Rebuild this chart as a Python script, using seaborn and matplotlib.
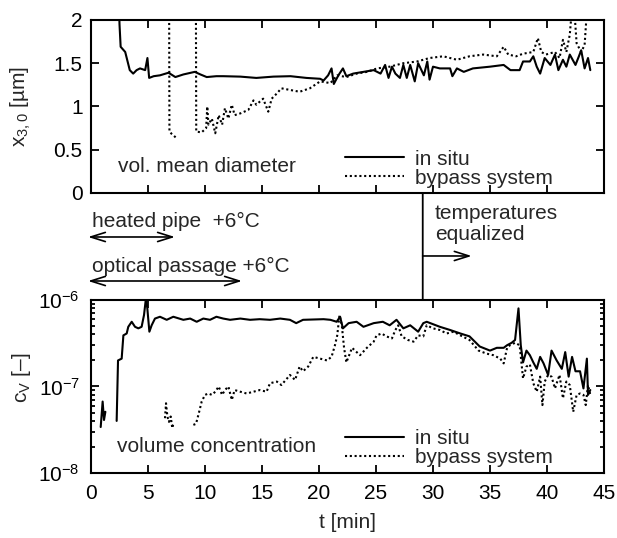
import numpy as np
import pandas as pd
import matplotlib
matplotlib.use("Agg")
import matplotlib.pyplot as plt
from matplotlib.patches import ConnectionPatch
from matplotlib.ticker import NullFormatter, LogLocator
import seaborn as sns

# ---- data ----
# upper panel: volume mean diameter x_3,0 [um]
t_d_insitu = [2.45, 2.5, 2.6, 3.0, 3.4, 3.7, 4.0, 4.3, 4.75, 4.95, 5.1, 5.5, 6.05, 6.8, 7.4, 8.1,
              9.1, 9.6, 10.15, 11.0, 11.6, 13.1, 14.5, 16.0, 17.5, 18.9, 20.1, 20.4, 20.8, 21.1,
              21.3, 21.7, 22.1, 22.4, 23.0, 23.9, 24.8, 25.4, 25.8, 26.1, 26.4, 26.7, 27.1, 27.4,
              27.7, 28.0, 28.4, 28.7, 29.2, 29.5, 29.7, 30.0, 30.6, 31.5, 31.7, 32.1, 32.7, 33.5,
              35.0, 36.2, 36.8, 37.6, 37.9, 38.5, 38.8, 39.1, 39.4, 39.8, 40.3, 40.7, 41.0, 41.4,
              41.7, 42.0, 42.5, 42.8, 43.0, 43.3, 43.6, 43.8]
d_insitu = [2.2, 1.95, 1.69, 1.63, 1.42, 1.38, 1.42, 1.44, 1.42, 1.56, 1.33, 1.35, 1.36, 1.39, 1.34, 1.37,
            1.40, 1.37, 1.34, 1.35, 1.35, 1.345, 1.33, 1.345, 1.35, 1.33, 1.32, 1.30, 1.36, 1.44,
            1.26, 1.36, 1.44, 1.35, 1.38, 1.40, 1.42, 1.38, 1.48, 1.33, 1.46, 1.38, 1.33, 1.48,
            1.33, 1.48, 1.29, 1.50, 1.36, 1.52, 1.31, 1.46, 1.44, 1.44, 1.35, 1.44, 1.40, 1.44,
            1.46, 1.48, 1.42, 1.42, 1.52, 1.52, 1.58, 1.46, 1.38, 1.56, 1.48, 1.60, 1.42, 1.54,
            1.46, 1.60, 1.48, 1.58, 1.65, 1.44, 1.56, 1.42]

t_d_bypass_1 = [6.85, 6.88, 7.1, 7.45]
d_bypass_1 = [2.3, 0.71, 0.68, 0.64]
t_d_bypass_2 = [9.2, 9.23, 9.7, 10.1, 10.2, 10.3, 10.6, 10.9, 11.2, 11.5, 11.75, 12.05, 12.35, 12.6,
                13.1, 13.8, 14.25, 14.5, 15.1, 15.55, 15.85, 16.3, 16.7, 17.5, 18.3, 19.2, 20.1,
                21.0, 21.6, 22.4, 23.3, 24.2, 25.1, 26.2, 27.4, 28.6, 29.7, 30.9, 32.1, 33.2, 34.4,
                35.6, 36.2, 36.6, 37.3, 37.9, 38.8, 39.2, 39.5, 39.9, 40.7, 41.1, 41.4, 41.7, 42.0,
                42.3, 42.6, 43.0, 43.3, 43.6]
d_bypass_2 = [2.3, 0.71, 0.70, 0.75, 1.0, 0.79, 0.86, 0.69, 0.90, 0.79, 0.98, 0.86, 1.02, 0.90,
              0.92, 0.96, 1.07, 1.02, 1.09, 0.94, 1.09, 1.15, 1.21, 1.19, 1.17, 1.21, 1.29,
              1.27, 1.36, 1.34, 1.38, 1.40, 1.44, 1.46, 1.50, 1.52, 1.56, 1.58, 1.54, 1.58, 1.60,
              1.58, 1.69, 1.60, 1.58, 1.61, 1.63, 1.79, 1.63, 1.60, 1.63, 1.56, 1.77, 1.63, 1.83,
              2.3, 1.73, 1.63, 1.71, 2.3]

# lower panel: volume concentration c_V [-]
t_c_insitu_1 = [0.85, 1.02, 1.14, 1.26]
c_insitu_1 = [3.4e-8, 6.7e-8, 4.1e-8, 5.1e-8]
t_c_insitu_2 = [2.25, 2.37, 2.69, 2.84, 3.13, 3.27, 3.57, 3.86, 4.15, 4.44, 4.65, 4.82, 4.94, 5.12,
                5.32, 5.61, 6.05, 6.64, 7.22, 8.1, 8.7, 9.27, 9.85, 10.44, 11.0, 11.6, 12.2, 13.1,
                13.95, 14.8, 15.7, 16.6, 17.45, 18.0, 18.6, 20.4, 21.0, 21.55, 21.85, 22.1, 22.6,
                23.3, 23.9, 24.8, 25.6, 26.2, 26.8, 27.4, 28.0, 28.7, 29.15, 29.45, 30.6, 31.5,
                32.4, 33.2, 34.1, 35.0, 35.6, 36.2, 36.5, 36.9, 37.2, 37.5, 37.7, 37.9, 38.2, 38.5,
                38.8, 39.1, 39.4, 39.7, 40.1, 40.4, 40.85, 41.3, 41.6, 41.9, 42.2, 42.5, 42.9,
                43.2, 43.5, 43.6, 43.8]
c_insitu_2 = [4.0e-8, 2.0e-7, 2.1e-7, 3.9e-7, 4.1e-7, 4.9e-7, 5.6e-7, 4.9e-7, 4.7e-7, 4.9e-7,
              6.7e-7, 1.05e-6, 8.0e-7, 4.3e-7, 5.1e-7, 6.1e-7, 6.4e-7, 5.9e-7, 6.4e-7, 5.9e-7,
              6.1e-7, 5.6e-7, 6.1e-7, 5.9e-7, 6.4e-7, 6.1e-7, 5.9e-7, 6.1e-7, 5.9e-7, 6.0e-7,
              5.9e-7, 6.1e-7, 5.9e-7, 5.4e-7, 5.9e-7, 6.0e-7, 5.9e-7, 5.6e-7, 6.4e-7, 4.7e-7,
              5.4e-7, 5.6e-7, 4.9e-7, 5.4e-7, 5.6e-7, 5.1e-7, 5.9e-7, 4.7e-7, 5.1e-7, 4.3e-7,
              5.4e-7, 5.6e-7, 4.9e-7, 4.5e-7, 4.1e-7, 3.8e-7, 2.9e-7, 2.6e-7, 2.8e-7, 2.8e-7,
              3.0e-7, 3.2e-7, 3.45e-7, 8.0e-7, 3.0e-7, 1.9e-7, 2.6e-7, 2.3e-7, 1.9e-7, 1.6e-7,
              2.2e-7, 1.85e-7, 1.36e-7, 2.6e-7, 2.0e-7, 1.6e-7, 2.5e-7, 1.3e-7, 2.2e-7, 1.5e-7,
              1.5e-7, 9.5e-8, 2.1e-7, 8.0e-8, 9.1e-8]

t_c_bypass_1 = [6.49, 6.58, 6.70, 6.84, 6.99, 7.13, 7.22]
c_bypass_1 = [4.3e-8, 6.4e-8, 4.5e-8, 3.9e-8, 4.5e-8, 3.3e-8, 3.7e-8]
t_c_bypass_2 = [8.98, 9.21, 9.42, 9.71, 10.0, 10.3, 10.6, 10.9, 11.2, 11.5, 11.75, 12.05, 12.35,
                12.6, 13.1, 13.65, 14.25, 14.8, 15.4, 15.7, 16.3, 16.7, 17.2, 17.45, 17.9, 18.3,
                18.6, 19.05, 19.5, 20.1, 20.7, 21.1, 21.4, 21.6, 21.8, 22.0, 22.2, 22.4, 22.9,
                23.3, 23.6, 24.2, 24.8, 25.05, 25.5, 25.9, 26.4, 26.7, 26.95, 27.25, 27.8, 28.3,
                28.7, 29.15, 29.45, 30.0, 30.6, 31.2, 31.8, 32.4, 33.2, 34.0, 34.7, 35.3, 35.9,
                36.2, 36.5, 36.75, 37.2, 37.6, 37.9, 38.2, 38.5, 38.8, 39.1, 39.4, 39.6, 39.8,
                40.1, 40.4, 40.7, 41.1, 41.4, 41.7, 42.0, 42.3, 42.6, 42.9, 43.2, 43.4, 43.6, 43.8]
c_bypass_2 = [3.6e-8, 3.7e-8, 4.7e-8, 6.7e-8, 8.0e-8, 8.3e-8, 8.0e-8, 8.7e-8, 1.0e-7, 8.0e-8,
              9.1e-8, 1.0e-7, 7.0e-8, 9.1e-8, 8.7e-8, 8.3e-8, 8.7e-8, 9.1e-8, 8.7e-8, 1.09e-7,
              1.14e-7, 1.04e-7, 1.24e-7, 1.36e-7, 1.19e-7, 1.7e-7, 1.5e-7, 1.7e-7, 2.2e-7, 2.1e-7,
              2.0e-7, 2.2e-7, 3.0e-7, 3.9e-7, 6.7e-7, 5.1e-7, 2.8e-7, 1.9e-7, 2.8e-7, 2.5e-7,
              2.3e-7, 2.8e-7, 3.3e-7, 3.9e-7, 4.1e-7, 3.8e-7, 3.6e-7, 4.5e-7, 5.1e-7, 3.8e-7,
              3.45e-7, 3.3e-7, 3.9e-7, 3.8e-7, 5.1e-7, 4.7e-7, 4.5e-7, 4.1e-7, 4.3e-7, 3.9e-7,
              3.45e-7, 2.6e-7, 2.4e-7, 2.3e-7, 2.1e-7, 1.85e-7, 2.8e-7, 3.0e-7, 3.2e-7, 3.0e-7,
              1.24e-7, 1.7e-7, 1.8e-7, 1.09e-7, 8.7e-8, 1.3e-7, 6.1e-8, 1.14e-7, 1.36e-7, 1.3e-7,
              9.5e-8, 1.36e-7, 7.3e-8, 1.14e-7, 1.04e-7, 5.1e-8, 8.0e-8, 8.3e-8, 8.0e-8, 6.1e-8,
              1.04e-7, 8.0e-8]

series_names = ["in situ", "bypass system"]
xticks = [0, 5, 10, 15, 20, 25, 30, 35, 40, 45]
yticks_top = [0, 0.5, 1, 1.5, 2]
ytick_labels_top = ["0", "0.5", "1", "1.5", "2"]
t_equalized = 29.1


def make_frame(parts):
    rows = []
    for seg, (name, tt, vv) in enumerate(parts):
        rows.append(pd.DataFrame({"t": tt, "v": vv, "series": name, "seg": seg}))
    return pd.concat(rows, ignore_index=True)


df_top = make_frame([(series_names[0], t_d_insitu, d_insitu),
                     (series_names[1], t_d_bypass_1, d_bypass_1),
                     (series_names[1], t_d_bypass_2, d_bypass_2)])
df_bot = make_frame([(series_names[0], t_c_insitu_1, c_insitu_1),
                     (series_names[0], t_c_insitu_2, c_insitu_2),
                     (series_names[1], t_c_bypass_1, c_bypass_1),
                     (series_names[1], t_c_bypass_2, c_bypass_2)])

# ---- style ----
sns.set_style("ticks")
plt.rcParams["font.family"] = ["Liberation Sans", "DejaVu Sans"]
plt.rcParams["font.size"] = 15
plt.rcParams["mathtext.fontset"] = "custom"
plt.rcParams["mathtext.rm"] = "Liberation Sans"
plt.rcParams["mathtext.it"] = "Liberation Sans:italic"
plt.rcParams["axes.linewidth"] = 1.5

palette = {series_names[0]: "black", series_names[1]: "black"}
dashes = {series_names[0]: "", series_names[1]: (1, 1.3)}

fig = plt.figure(figsize=(6.17, 5.38), dpi=100)
ax1 = fig.add_axes([0.1475, 0.6413, 0.8314, 0.3216])
ax2 = fig.add_axes([0.1475, 0.1208, 0.8314, 0.3216])
ax2.set_yscale("log")


def style_axis(ax):
    ax.tick_params(which="both", direction="in", top=True, right=True, width=1.3,
                   labelsize=15, colors="black")
    ax.tick_params(which="major", length=6)
    ax.tick_params(which="minor", length=3)
    ax.set_xlim(0, 45)
    ax.set_xticks(xticks)
    for s in ax.spines.values():
        s.set_color("black")


def relegend(ax, anchor):
    leg = ax.get_legend()
    handles = leg.legend_handles
    labels = [t.get_text() for t in leg.get_texts()]
    ax.legend(handles, labels, loc="upper left", bbox_to_anchor=anchor, frameon=False,
              fontsize=15, handlelength=2.85, handletextpad=0.5, labelspacing=0.0,
              borderpad=0, borderaxespad=0)


# upper panel
sns.lineplot(data=df_top, x="t", y="v", hue="series", style="series", units="seg",
             estimator=None, sort=False, palette=palette, dashes=dashes, lw=1.5, ax=ax1)
style_axis(ax1)
ax1.set_ylim(0, 2)
ax1.set_yticks(yticks_top, ytick_labels_top)
ax1.tick_params(labelbottom=False, pad=6)
ax1.set_xlabel("")
ax1.set_ylabel(r"x$_{3,0}$ [µm]", fontsize=15)
ax1.yaxis.set_label_coords(-0.113, 0.5)
ax1.text(0.052, 0.153, "vol. mean diameter", transform=ax1.transAxes, va="center", fontsize=15)
relegend(ax1, (0.495, 0.25))

# lower panel
sns.lineplot(data=df_bot, x="t", y="v", hue="series", style="series", units="seg",
             estimator=None, sort=False, palette=palette, dashes=dashes, lw=1.5, ax=ax2)
style_axis(ax2)
ax2.set_ylim(1e-8, 1e-6)
ax2.yaxis.set_major_locator(LogLocator(base=10, numticks=5))
ax2.yaxis.set_minor_locator(LogLocator(base=10, subs=np.arange(2, 10), numticks=12))
ax2.yaxis.set_minor_formatter(NullFormatter())
ax2.tick_params(axis="x", pad=8)
ax2.tick_params(axis="y", pad=8)
ax2.set_xlabel("t [min]", fontsize=15, labelpad=7)
ax2.set_ylabel(r"c$_{\mathrm{V}}$ [–]", fontsize=15)
ax2.yaxis.set_label_coords(-0.113, 0.55)
ax2.text(0.05, 0.152, "volume concentration", transform=ax2.transAxes, va="center", fontsize=15)
relegend(ax2, (0.495, 0.255))

# annotations between the panels
fig.text(0.149, 0.5786, "heated pipe  +6°C", fontsize=15, va="baseline")
fig.text(0.149, 0.4939, "optical passage +6°C", fontsize=15, va="baseline")
fig.text(0.705, 0.5924, "temperatures", fontsize=15, va="baseline")
fig.text(0.705, 0.554, "equalized", fontsize=15, va="baseline")
arrow = dict(arrowstyle="<->,head_length=0.7,head_width=0.22", lw=1.2, color="black",
             shrinkA=0, shrinkB=0)
ax1.annotate("", xy=(0.2836, 0.5595), xytext=(0.1426, 0.5595), xycoords="figure fraction",
             textcoords="figure fraction", arrowprops=arrow)
ax1.annotate("", xy=(0.3922, 0.4777), xytext=(0.1426, 0.4777), xycoords="figure fraction",
             textcoords="figure fraction", arrowprops=arrow)
ax1.annotate("", xy=(0.7645, 0.5242), xytext=(0.685, 0.5242), xycoords="figure fraction",
             textcoords="figure fraction",
             arrowprops=dict(arrowstyle="->,head_length=0.7,head_width=0.22", lw=1.2,
                             color="black", shrinkA=0, shrinkB=0))
con = ConnectionPatch(xyA=(t_equalized, 0), coordsA=ax1.transData,
                      xyB=(t_equalized, 1e-6), coordsB=ax2.transData, color="black", lw=1.3)
fig.add_artist(con)

fig.savefig("out.png", dpi=100)
